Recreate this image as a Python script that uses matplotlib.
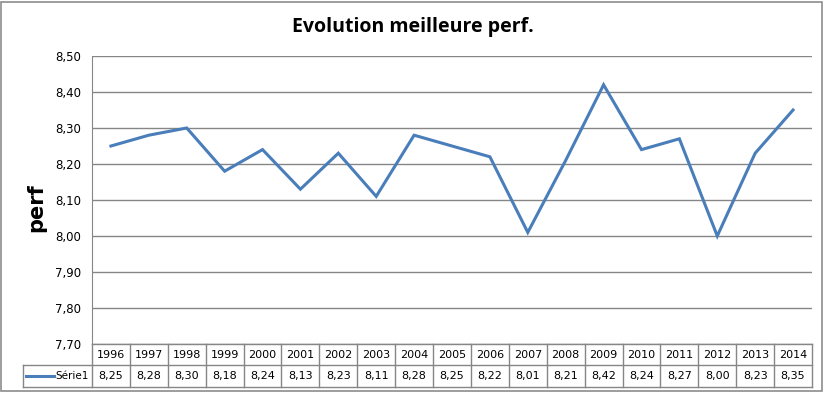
import numpy as np
import matplotlib
matplotlib.use("Agg")
from matplotlib import pyplot as plt
from matplotlib.lines import Line2D

# Donnees
annees = ["1996", "1997", "1998", "1999", "2000", "2001", "2002", "2003", "2004", "2005",
          "2006", "2007", "2008", "2009", "2010", "2011", "2012", "2013", "2014"]
perf = [8.25, 8.28, 8.30, 8.18, 8.24, 8.13, 8.23, 8.11, 8.28, 8.25,
        8.22, 8.01, 8.21, 8.42, 8.24, 8.27, 8.00, 8.23, 8.35]
serie = "Série1"
yticks = [7.70, 7.80, 7.90, 8.00, 8.10, 8.20, 8.30, 8.40, 8.50]

W, H = 826, 393
fig = plt.figure(figsize=(W / 100, H / 100), dpi=100)
fig.patch.set_facecolor("white")

def fx(px):
    return px / W

def fy(py):
    return 1 - py / H

# zone de trace (pixels)
x0, x1 = 92, 812
ytop, ybot = 56, 344
ax = fig.add_axes([fx(x0), fy(ybot), fx(x1) - fx(x0), fy(ytop) - fy(ybot)])
n = len(annees)
x = np.arange(n)
ax.plot(x, perf, color="#4A7EBB", lw=2.2, solid_joinstyle="miter")
ax.set_xlim(-0.5, n - 0.5)
ax.set_ylim(7.70, 8.50)
ax.set_yticks(yticks)
ax.set_yticklabels([f"{v:.2f}".replace(".", ",") for v in yticks],
                   fontsize=8.5, family="DejaVu Sans")
ax.set_xticks([])
ax.tick_params(axis="y", length=0, pad=8)
ax.grid(axis="y", color="#868686", lw=1)
for s in ["top", "right", "bottom"]:
    ax.spines[s].set_visible(False)
ax.spines["left"].set_color("#868686")
ax.set_axisbelow(True)

# titre et axe
fig.text(fx(413), fy(27), "Evolution meilleure perf.", ha="center", va="center",
         fontsize=14, fontweight="bold", family="Open Sans")
fig.text(fx(36), fy(208), "perf", ha="center", va="center", rotation=90,
         fontsize=15, fontweight="bold", family="DejaVu Sans")

# tableau de donnees
gris = "#868686"
r1, r2, r3 = 344, 365, 387
xleg = 23
colw = (x1 - x0) / n

def hline(xa, xb, yy):
    fig.add_artist(Line2D([fx(xa), fx(xb)], [fy(yy), fy(yy)], color=gris, lw=1))

def vline(xx, ya, yb):
    fig.add_artist(Line2D([fx(xx), fx(xx)], [fy(ya), fy(yb)], color=gris, lw=1))

hline(x0, x1, r1)
hline(xleg, x1, r2)
hline(xleg, x1, r3)
vline(xleg, r2, r3)
for i in range(n + 1):
    vline(x0 + i * colw, r1, r3)
for i in range(n):
    cx = x0 + (i + 0.5) * colw
    fig.text(fx(cx), fy((r1 + r2) / 2), annees[i], ha="center", va="center",
             fontsize=8, family="DejaVu Sans")
    fig.text(fx(cx), fy((r2 + r3) / 2), f"{perf[i]:.2f}".replace(".", ","),
             ha="center", va="center", fontsize=8, family="DejaVu Sans")

# legende dans le tableau
ym = (r2 + r3) / 2
fig.add_artist(Line2D([fx(26), fx(54)], [fy(ym), fy(ym)], color="#4A7EBB", lw=2.2))
fig.text(fx(55), fy(ym), serie, ha="left", va="center", fontsize=7.5, family="DejaVu Sans")

# cadre exterieur
fig.add_artist(plt.Rectangle((fx(1), fy(391)), fx(821), 389 / H, fill=False,
                             edgecolor="#8c8c8c", lw=1.2))

fig.savefig("out.png", dpi=100)
